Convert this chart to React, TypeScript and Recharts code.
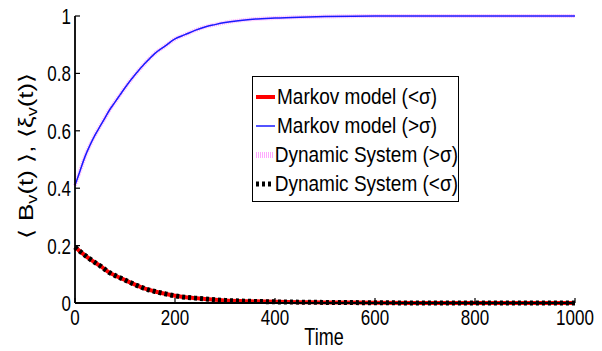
import React from 'react';
import { LineChart, Line, XAxis, YAxis, Legend } from 'recharts';

// sample times and values
const times = [0, 10, 20, 30, 40, 50, 60, 70, 80, 90, 100, 120, 140, 160, 180, 200, 220, 240, 260, 280, 300, 350, 400, 450, 500, 600, 700, 800, 900, 1000];
const markovLow = [0.195, 0.18, 0.166, 0.153, 0.141, 0.13, 0.117, 0.105, 0.096, 0.088, 0.08, 0.064, 0.05, 0.04, 0.032, 0.025, 0.02, 0.017, 0.014, 0.011, 0.009, 0.006, 0.004, 0.003, 0.002, 0.001, 0, 0, 0, 0];
const markovHigh = [0.41, 0.46, 0.51, 0.55, 0.585, 0.615, 0.645, 0.675, 0.7, 0.725, 0.75, 0.795, 0.835, 0.87, 0.895, 0.92, 0.935, 0.95, 0.962, 0.97, 0.977, 0.988, 0.993, 0.996, 0.998, 1, 1, 1, 1, 1];
const dynHigh = [0.41, 0.46, 0.51, 0.55, 0.585, 0.615, 0.645, 0.675, 0.7, 0.725, 0.75, 0.795, 0.835, 0.87, 0.895, 0.92, 0.935, 0.95, 0.962, 0.97, 0.977, 0.988, 0.993, 0.996, 0.998, 1, 1, 1, 1, 1];
const dynLow = [0.195, 0.18, 0.166, 0.153, 0.141, 0.13, 0.117, 0.105, 0.096, 0.088, 0.08, 0.064, 0.05, 0.04, 0.032, 0.025, 0.02, 0.017, 0.014, 0.011, 0.009, 0.006, 0.004, 0.003, 0.002, 0.001, 0, 0, 0, 0];

const xTicks = [0, 200, 400, 600, 800, 1000];
const yTicks = [0, 0.2, 0.4, 0.6, 0.8, 1];

const data = times.map((t, i) => ({
  t,
  markovLow: markovLow[i],
  markovHigh: markovHigh[i],
  dynHigh: dynHigh[i],
  dynLow: dynLow[i],
}));

const FONT = '"Liberation Sans", Arial, Helvetica, sans-serif';
const STRETCH = 1.35; // the original figure is squashed sideways

const legendItems = [
  { name: 'Markov model (<σ)', color: '#ff0000', width: 4, dash: undefined },
  { name: 'Markov model (>σ)', color: '#1a1aff', width: 1.5, dash: undefined },
  { name: 'Dynamic System (>σ)', color: '#ffa8ff', width: 6, dash: '1 1' },
  { name: 'Dynamic System (<σ)', color: '#000000', width: 5, dash: '3 3' },
];

const LegendBox = () => (
  <div style={{ border: '1.5px solid #000', background: '#fff', width: 207, height: 126, padding: '5px 0 0 2px', boxSizing: 'border-box' }}>
    {legendItems.map((it) => (
      <div key={it.name} style={{ display: 'flex', alignItems: 'center', height: 29, fontFamily: FONT, fontSize: 19, color: '#000', whiteSpace: 'nowrap' }}>
        <svg width={21} height={10} style={{ marginRight: 1 }}>
          <line x1={1} y1={5} x2={20} y2={5} stroke={it.color} strokeWidth={it.width} strokeDasharray={it.dash} />
        </svg>
        <span style={{ display: 'inline-block', transform: 'scaleY(1.2)' }}>{it.name}</span>
      </div>
    ))}
  </div>
);

const XTick = (props: any) => (
  <text transform={`translate(${props.x},${props.y + 27}) scale(1,${STRETCH})`} textAnchor="middle" fontFamily={FONT} fontSize={17} fill="#000">
    {props.payload.value}
  </text>
);

const YTick = (props: any) => (
  <text transform={`translate(${props.x},${props.y + 8}) scale(1,${STRETCH})`} textAnchor="end" fontFamily={FONT} fontSize={17} fill="#000">
    {props.payload.value}
  </text>
);

const XLabel = (props: any) => {
  const vb = props.viewBox || {};
  return (
    <text transform={`translate(${vb.x + vb.width / 2 - 1},${vb.y + 42}) scale(1,1.3)`} textAnchor="middle" fontFamily={FONT} fontSize={18} fill="#000">
      Time
    </text>
  );
};

const YLabel = (props: any) => {
  const vb = props.viewBox || {};
  const cx = 26;
  const cy = vb.y + vb.height / 2 - 4;
  return (
    <text x={cx} y={cy} transform={`rotate(-90 ${cx} ${cy})`} textAnchor="middle" dominantBaseline="central"
      fontFamily={FONT} fontSize={20} fill="#000" textLength={166} lengthAdjust="spacingAndGlyphs">
      <tspan>⟨ B</tspan>
      <tspan fontSize={14} dy={6}>v</tspan>
      <tspan dy={-6}>(t) ⟩,  ⟨ξ</tspan>
      <tspan fontSize={14} dy={6}>v</tspan>
      <tspan dy={-6}>(t)⟩</tspan>
    </text>
  );
};

export default function App() {
  return (
    <div style={{ position: 'absolute', left: 0, top: 0, background: '#fff' }}>
      <LineChart width={602} height={351} data={data} margin={{ top: 16, right: 27, bottom: 0, left: 0 }}>
        <XAxis
          dataKey="t" type="number" domain={[0, 1000]} ticks={xTicks}
          height={48} tickSize={-5} tickMargin={0} tick={<XTick />}
          stroke="#000" strokeWidth={1.8} tickLine={{ stroke: '#000', strokeWidth: 1.2 }}
          label={<XLabel />}
        />
        <XAxis
          xAxisId="top" orientation="top" dataKey="t" type="number" domain={[0, 1000]} ticks={xTicks}
          height={0} tickSize={-5} tick={() => <g />} stroke="#000" strokeWidth={1.8}
          tickLine={{ stroke: '#000', strokeWidth: 1.2 }}
        />
        <YAxis
          type="number" domain={[0, 1]} ticks={yTicks} width={75}
          tickSize={-5} tickMargin={9} tick={<YTick />}
          stroke="#000" strokeWidth={1.8} tickLine={{ stroke: '#000', strokeWidth: 1.2 }}
          label={<YLabel />}
        />
        <YAxis
          yAxisId="right" orientation="right" type="number" domain={[0, 1]} ticks={yTicks}
          width={0} tickSize={-5} tick={() => <g />} stroke="#000" strokeWidth={1.8}
          tickLine={{ stroke: '#000', strokeWidth: 1.2 }}
        />
        <Legend
          layout="vertical" align="center" verticalAlign="middle"
          content={() => <LegendBox />}
          wrapperStyle={{ position: 'absolute', left: 252, top: 76, width: 207, height: 126 }}
        />
        <Line dataKey="dynHigh" type="monotone" stroke="#ffa8ff" strokeWidth={4} strokeDasharray="1 1" dot={false} isAnimationActive={false} />
        <Line dataKey="markovHigh" type="monotone" stroke="#1a1aff" strokeWidth={1.5} dot={false} isAnimationActive={false} />
        <Line dataKey="markovLow" type="monotone" stroke="#ff0000" strokeWidth={4} dot={false} isAnimationActive={false} />
        <Line dataKey="dynLow" type="monotone" stroke="#000000" strokeWidth={5} strokeDasharray="3 3" dot={false} isAnimationActive={false} />
      </LineChart>
    </div>
  );
}
